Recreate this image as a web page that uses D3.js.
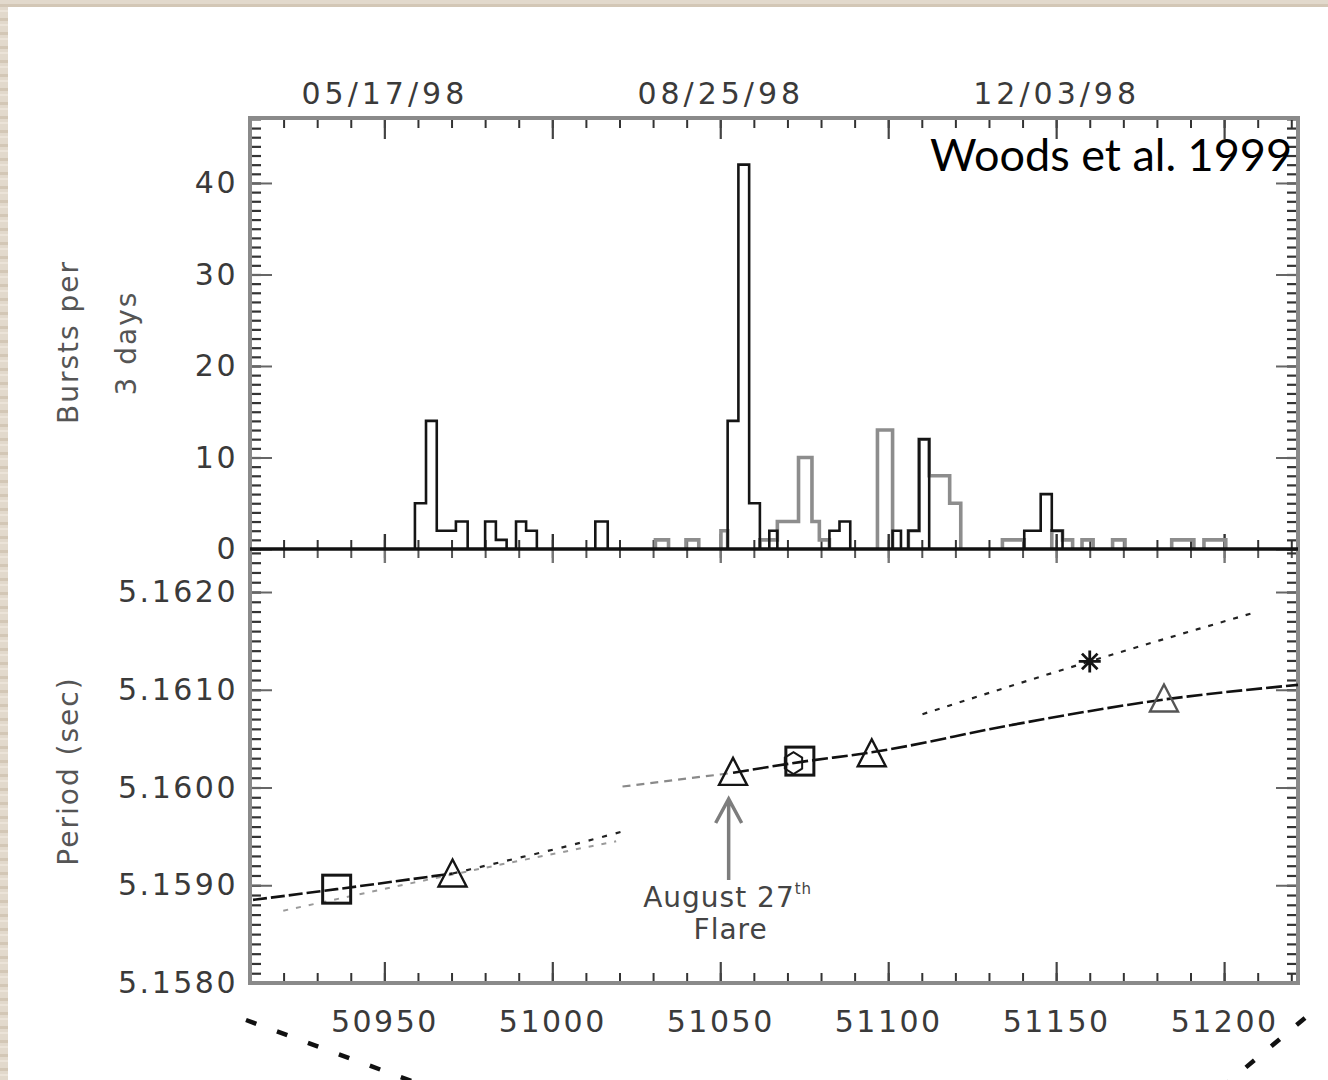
<!DOCTYPE html>
<html>
<head>
<meta charset="utf-8">
<script src="https://cdn.jsdelivr.net/npm/d3@7"></script>
<style>
  html, body { margin: 0; padding: 0; background: #fff; }
  svg { display: block; }
</style>
</head>
<body>
<div id="chart"></div>
<script>
// ---- data ----
const majorDays = [50950, 51000, 51050, 51100, 51150, 51200];
const dateTickDays = [50950, 51050, 51150];
const dateTickLabels = ["05/17/98", "08/25/98", "12/03/98"];
const burstTicks = [0, 10, 20, 30, 40];
const periodTicks = [5.1580, 5.1590, 5.1600, 5.1610, 5.1620];

// histogram bins: [start MJD, end MJD, bursts]
const burstsDark = [
    [50959.1, 50962.4, 5], [50962.4, 50965.6, 14], [50965.6, 50968.4, 2], [50968.4, 50971.3, 2],
    [50971.3, 50974.8, 3],
    [50980.0, 50983.2, 3], [50983.2, 50986.4, 1],
    [50989.2, 50992.2, 3], [50992.2, 50995.4, 2],
    [51012.8, 51016.5, 3],
    [51052.2, 51055.4, 14], [51055.4, 51058.6, 42], [51058.6, 51061.8, 5],
    [51064.6, 51067.0, 2],
    [51082.5, 51085.5, 2], [51085.5, 51088.7, 3],
    [51101.3, 51103.8, 2],
    [51106.0, 51109.2, 2], [51109.2, 51112.2, 12],
    [51140.5, 51145.4, 2], [51145.4, 51148.7, 6], [51148.7, 51151.9, 2]
];
const burstsLight = [
    [51030.7, 51034.6, 1],
    [51039.8, 51043.6, 1],
    [51050.2, 51052.2, 2],
    [51061.8, 51064.6, 1], [51064.6, 51067.0, 1], [51067.0, 51070.2, 3], [51070.2, 51073.3, 3],
    [51073.3, 51077.3, 10], [51077.3, 51079.5, 3], [51079.5, 51082.5, 1],
    [51096.8, 51101.3, 13],
    [51106.0, 51109.2, 2], [51109.2, 51112.2, 12], [51112.2, 51115.2, 8], [51115.2, 51118.3, 8],
    [51118.3, 51121.6, 5],
    [51134.0, 51137.2, 1], [51137.2, 51140.5, 1],
    [51148.7, 51151.9, 2], [51151.9, 51154.9, 1],
    [51157.7, 51161.0, 1],
    [51166.8, 51170.5, 1],
    [51184.4, 51187.7, 1], [51187.7, 51191.0, 1],
    [51194.0, 51197.2, 1], [51197.2, 51200.5, 1]
];

// period curves: [MJD, period s]
const preFlareFit = [[50910.9, 5.15885], [50935.8, 5.15896], [50970.3, 5.15912]];
const preFlareExtrap = [[50970.3, 5.15912], [50986.3, 5.15925], [51002.1, 5.15938], [51020.9, 5.15955]];
const preFlareAlt = [[50919.9, 5.15874], [50970.3, 5.15911], [51019.0, 5.15945]];
const postFlareLead = [[51020.9, 5.16001], [51053.8, 5.16015]];
const postFlareFit = [[51053.8, 5.16015], [51073.7, 5.16026], [51095.1, 5.16036], [51136.8, 5.16064], [51182.1, 5.16090], [51222.0, 5.16105]];
const upperFit = [[51110.2, 5.16075], [51160.0, 5.16129], [51209.1, 5.16179]];

const squares = [[50935.8, 5.15896], [51073.7, 5.16027]];
const triangles = [[50970.3, 5.15912], [51053.8, 5.16016], [51095.1, 5.16035], [51182.1, 5.16091]];
const hexagons = [[51071.8, 5.16025]];
const stars = [[51160.0, 5.16129]];
const flareDay = 51052.5;

// ---- layout ----
const W = 1328, H = 1080;
const frame = { left: 250, right: 1298, top: 118, mid: 549, bottom: 983 };
const labelFont = '"DejaVu Sans", sans-serif';
const ink = "#3a3a3a";

const x = d3.scaleLinear().domain([50910, 51222]).range([frame.left, frame.right]);
const yBursts = d3.scaleLinear().domain([0, 47.1]).range([frame.mid, frame.top]);
const yPeriod = d3.scaleLinear().domain([5.1580, 5.16244]).range([frame.bottom, frame.mid]);

const svg = d3.select("#chart").append("svg").attr("width", W).attr("height", H);

// wood-ish slide border (left and top)
const defs = svg.append("defs");
const grain = defs.append("pattern").attr("id", "grain")
    .attr("width", 40).attr("height", 14).attr("patternUnits", "userSpaceOnUse");
grain.append("rect").attr("width", 40).attr("height", 14).attr("fill", "#e2d9cc");
grain.append("rect").attr("y", 4).attr("width", 40).attr("height", 3).attr("fill", "#d3c7b6");
grain.append("rect").attr("y", 10).attr("width", 40).attr("height", 2).attr("fill", "#ebe3d8");
svg.append("rect").attr("width", W).attr("height", H).attr("fill", "url(#grain)");
svg.append("rect").attr("x", 8).attr("y", 7).attr("width", W - 8).attr("height", H - 7).attr("fill", "#fff");

// ---- ticks ----
const minorDays = d3.range(50910, 51222, 10);

function tickSet(axis, tx, ty, size, color, width) {
    const g = svg.append("g").attr("transform", `translate(${tx},${ty})`)
        .call(axis.tickSize(size).tickFormat(""));
    g.select(".domain").remove();
    g.selectAll(".tick text").remove();
    g.selectAll(".tick line").attr("stroke", color).attr("stroke-width", width);
    return g;
}

function labelSet(axis, tx, ty, pad, spacing) {
    const g = svg.append("g").attr("transform", `translate(${tx},${ty})`)
        .call(axis.tickSize(0).tickPadding(pad));
    g.select(".domain").remove();
    g.selectAll(".tick line").remove();
    g.attr("font-family", labelFont).attr("font-size", 30);
    g.selectAll("text").attr("fill", ink).style("letter-spacing", spacing + "px");
    return g;
}

// horizontal axes: top, middle (both panels), bottom
tickSet(d3.axisTop(x).tickValues(minorDays), 0, frame.top, -10, "#333", 2);
tickSet(d3.axisTop(x).tickValues(majorDays), 0, frame.top, -21, "#444", 2.2);
tickSet(d3.axisBottom(x).tickValues(minorDays), 0, frame.mid, -9, "#333", 2);
tickSet(d3.axisBottom(x).tickValues(majorDays), 0, frame.mid, -15, "#333", 2.4);
tickSet(d3.axisTop(x).tickValues(minorDays), 0, frame.mid, -9, "#555", 2);
tickSet(d3.axisTop(x).tickValues(majorDays), 0, frame.mid, -14, "#777", 2.4);
tickSet(d3.axisBottom(x).tickValues(minorDays), 0, frame.bottom, -10, "#333", 2);
tickSet(d3.axisBottom(x).tickValues(majorDays), 0, frame.bottom, -21, "#444", 2.2);

// vertical axes: left and right, both panels
const burstMinor = d3.range(0, 48, 1);
const periodMinor = d3.range(0, 45).map(i => 5.1580 + i * 0.0001);
[[d3.axisLeft, frame.left], [d3.axisRight, frame.right]].forEach(([fn, px]) => {
    tickSet(fn(yBursts).tickValues(burstMinor), px, 0, -11, "#333", 2.2);
    tickSet(fn(yBursts).tickValues(burstTicks), px, 0, -22, "#666", 2);
    tickSet(fn(yPeriod).tickValues(periodMinor), px, 0, -11, "#333", 2.2);
    tickSet(fn(yPeriod).tickValues(periodTicks), px, 0, -22, "#666", 2);
});

// tick labels
labelSet(d3.axisLeft(yBursts).tickValues(burstTicks), frame.left, 0, 12, 2.5);
labelSet(d3.axisLeft(yPeriod).tickValues(periodTicks).tickFormat(d3.format(".4f")), frame.left, 0, 12, 2.5);
labelSet(d3.axisBottom(x).tickValues(majorDays).tickFormat(d3.format("d")), 0, frame.bottom, 28, 2.5);
labelSet(d3.axisTop(x).tickValues(dateTickDays).tickFormat((d, i) => dateTickLabels[i]), 0, frame.top, 14, 4);

// frame and panel divider
svg.append("rect")
    .attr("x", frame.left).attr("y", frame.top)
    .attr("width", frame.right - frame.left).attr("height", frame.bottom - frame.top)
    .attr("fill", "none").attr("stroke", "#8a8a8a").attr("stroke-width", 4);

// ---- histogram ----
function stepGroups(bins) {
    const groups = [];
    bins.forEach(b => {
        const last = groups[groups.length - 1];
        if (last && Math.abs(last[last.length - 1][1] - b[0]) < 0.05) last.push(b);
        else groups.push([b]);
    });
    return groups.map(g => {
        const pts = [[g[0][0], 0]];
        g.forEach(b => { pts.push([b[0], b[2]]); pts.push([b[1], b[2]]); });
        pts.push([g[g.length - 1][1], 0]);
        return pts;
    });
}
const histLine = d3.line().x(d => x(d[0])).y(d => yBursts(d[1]));

svg.append("g").selectAll("path")
    .data(stepGroups(burstsLight))
    .enter().append("path")
    .attr("d", histLine)
    .attr("fill", "none").attr("stroke", "#8d8d8d").attr("stroke-width", 3.6);

svg.append("g").selectAll("path")
    .data(stepGroups(burstsDark))
    .enter().append("path")
    .attr("d", histLine)
    .attr("fill", "none").attr("stroke", "#151515").attr("stroke-width", 2.6);

svg.append("line")
    .attr("x1", frame.left).attr("x2", frame.right)
    .attr("y1", frame.mid).attr("y2", frame.mid)
    .attr("stroke", "#111").attr("stroke-width", 3.5);

// ---- period panel ----
const periodLine = d3.line().x(d => x(d[0])).y(d => yPeriod(d[1])).curve(d3.curveMonotoneX);
const curves = [
    { pts: preFlareAlt, color: "#9a9a9a", width: 2, dash: "5 8" },
    { pts: preFlareExtrap, color: "#222", width: 2.2, dash: "5 9" },
    { pts: preFlareFit, color: "#111", width: 2.6, dash: "14 4" },
    { pts: postFlareLead, color: "#8a8a8a", width: 2.2, dash: "8 6" },
    { pts: postFlareFit, color: "#111", width: 2.6, dash: "16 4" },
    { pts: upperFit, color: "#222", width: 2.2, dash: "5 8" }
];
svg.append("g").selectAll("path")
    .data(curves)
    .enter().append("path")
    .attr("d", d => periodLine(d.pts))
    .attr("fill", "none")
    .attr("stroke", d => d.color)
    .attr("stroke-width", d => d.width)
    .attr("stroke-dasharray", d => d.dash);

const marks = svg.append("g").attr("fill", "none");
marks.selectAll(".sq").data(squares).enter().append("rect")
    .attr("x", d => x(d[0]) - 14).attr("y", d => yPeriod(d[1]) - 14)
    .attr("width", 28).attr("height", 28)
    .attr("stroke", "#151515").attr("stroke-width", 3);
marks.selectAll(".tri").data(triangles).enter().append("path")
    .attr("d", d => {
        const cx = x(d[0]), cy = yPeriod(d[1]);
        return `M${cx},${cy - 14}L${cx + 14},${cy + 13}L${cx - 14},${cy + 13}Z`;
    })
    .attr("stroke", (d, i) => i === triangles.length - 1 ? "#555" : "#151515")
    .attr("stroke-width", 2.4);
marks.selectAll(".hex").data(hexagons).enter().append("path")
    .attr("d", d => {
        const cx = x(d[0]), cy = yPeriod(d[1]);
        return d3.line()(d3.range(6).map(k => [cx + 10 * Math.cos(Math.PI / 3 * k + Math.PI / 6), cy + 11 * Math.sin(Math.PI / 3 * k + Math.PI / 6)])) + "Z";
    })
    .attr("stroke", "#151515").attr("stroke-width", 2);
marks.selectAll(".star").data(stars).enter().append("path")
    .attr("d", d => {
        const cx = x(d[0]), cy = yPeriod(d[1]), r = 11;
        return d3.range(4).map(k => {
            const a = Math.PI / 4 * k;
            return `M${cx - r * Math.cos(a)},${cy - r * Math.sin(a)}L${cx + r * Math.cos(a)},${cy + r * Math.sin(a)}`;
        }).join("");
    })
    .attr("stroke", "#151515").attr("stroke-width", 2.8);

// flare annotation
const ax = x(flareDay);
svg.append("path")
    .attr("d", `M${ax},880L${ax},799M${ax - 13},823L${ax},799L${ax + 13},823`)
    .attr("fill", "none").attr("stroke", "#7d7d7d").attr("stroke-width", 3.5);
const note = svg.append("g").attr("font-family", labelFont).attr("fill", "#444").style("letter-spacing", "1px");
const t1 = note.append("text").attr("x", ax - 1).attr("y", 907).attr("text-anchor", "middle").attr("font-size", 28);
t1.append("tspan").text("August 27");
t1.append("tspan").attr("dy", -13).attr("font-size", 15).text("th");
note.append("text").attr("x", ax + 2).attr("y", 939).attr("text-anchor", "middle").attr("font-size", 28).text("Flare");

// axis titles
const titles = svg.append("g").attr("font-family", labelFont).attr("fill", "#555")
    .attr("font-size", 28).attr("text-anchor", "middle").style("letter-spacing", "2px");
[["Bursts per", 68, 342], ["3 days", 126, 343], ["Period (sec)", 68, 771]].forEach(([t, cx, cy]) => {
    titles.append("text")
        .attr("transform", `translate(${cx},${cy}) rotate(-90)`)
        .attr("dominant-baseline", "central")
        .text(t);
});

// citation
svg.append("text")
    .attr("x", 1292).attr("y", 171).attr("text-anchor", "end")
    .attr("font-family", "Lato, 'Open Sans', sans-serif").attr("font-size", 45)
    .attr("fill", "#000").text("Woods et al. 1999");

// slide zoom guide dashes under the axis
svg.append("g").attr("stroke", "#111").attr("stroke-width", 4.5).attr("stroke-dasharray", "11 22")
    .selectAll("line")
    .data([[246, 1020, 414, 1082], [1305, 1018, 1226, 1084]])
    .enter().append("line")
    .attr("x1", d => d[0]).attr("y1", d => d[1]).attr("x2", d => d[2]).attr("y2", d => d[3]);
</script>
</body>
</html>
